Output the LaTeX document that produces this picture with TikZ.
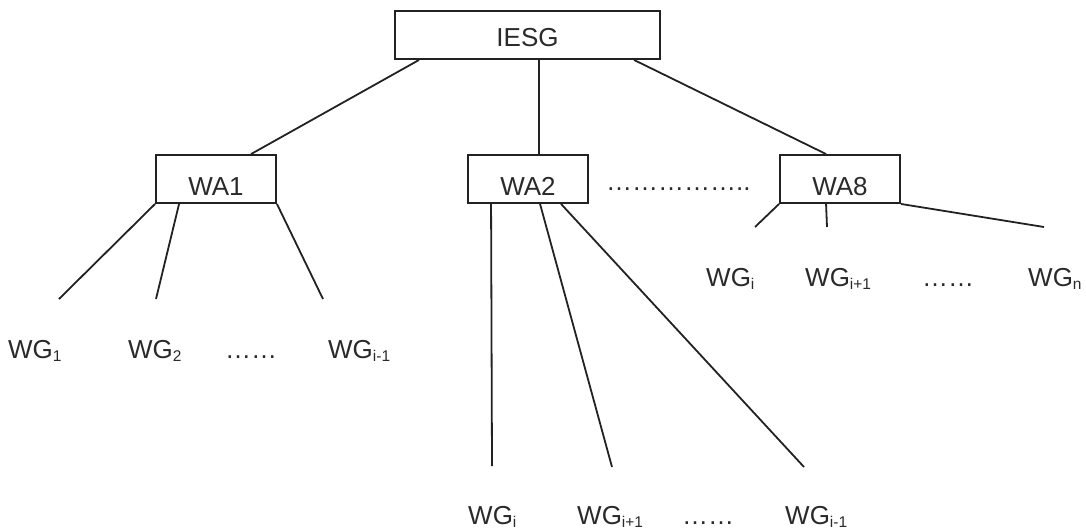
\documentclass[tikz,border=0pt]{standalone}
\usepackage{fontspec}
\setmainfont{Liberation Sans}
\newcommand\lo[1]{\raisebox{-3.5pt}{\fontsize{15.5}{16}\selectfont #1}}
\definecolor{ink}{HTML}{2A2A2A}
\definecolor{wire}{HTML}{222222}
\begin{document}
\begin{tikzpicture}[x=1pt,y=-1pt,
  every node/.style={text=ink,font=\fontsize{26}{30}\selectfont},
  areabox/.style={draw=wire,line width=1.9pt,inner sep=0pt,minimum height=48pt,
    text height=32pt,text depth=0pt},
  label/.style={anchor=base west,inner sep=0pt},
  wire/.style={draw=wire,line width=1.8pt}]
\useasboundingbox (0,0) rectangle (1086,531);

% top level and areas
\node[areabox,minimum width=265pt,text height=22pt] (iesg) at (527.5,35) {IESG};
\node[areabox,minimum width=120pt] (wa1) at (216,179) {WA1};
\node[areabox,minimum width=120pt] (wa2) at (528,179) {WA2};
\node[areabox,minimum width=120pt] (wa8) at (840,179) {WA8};
\node[label] (gap) at (606,190) {……………..};

% working groups
\node[label] (g11) at (8,358) {WG\lo{1}};
\node[label] (g12) at (128,358) {WG\lo{2}};
\node[label] (g1d) at (225,358) {……};
\node[label] (g1n) at (328,358) {WG\lo{i-1}};

\node[label] (g21) at (468,524) {WG\lo{i}};
\node[label] (g22) at (577,524) {WG\lo{i+1}};
\node[label] (g2d) at (682,524) {……};
\node[label] (g2n) at (785,524) {WG\lo{i-1}};

\node[label] (g31) at (706,286) {WG\lo{i}};
\node[label] (g32) at (805,286) {WG\lo{i+1}};
\node[label] (g3d) at (922,286) {……};
\node[label] (g3n) at (1028,286) {WG\lo{n}};

% free ends of the branches
\coordinate (e11) at (59,299);
\coordinate (e12) at (156,299);
\coordinate (e13) at (323,299);
\coordinate (e21) at (492,466);
\coordinate (e22) at (612,467);
\coordinate (e23) at (804,467);
\coordinate (e31) at (755,227);
\coordinate (e32) at (827,227);
\coordinate (e33) at (1044,227);

% IESG to areas
\draw[wire] ([xshift=25pt]iesg.south west) -- ([xshift=96pt]wa1.north west);
\draw[wire] ([xshift=145pt]iesg.south west) -- ([xshift=72pt]wa2.north west);
\draw[wire] ([xshift=240pt]iesg.south west) -- ([xshift=47pt]wa8.north west);

% areas to working groups
\draw[wire] (wa1.south west) -- (e11);
\draw[wire] ([xshift=24pt]wa1.south west) -- (e12);
\draw[wire] (wa1.south east) -- (e13);

\draw[wire] ([xshift=24pt]wa2.south west) -- (e21);
\draw[wire] ([xshift=73pt]wa2.south west) -- (e22);
\draw[wire] ([xshift=94pt]wa2.south west) -- (e23);

\draw[wire] (wa8.south west) -- (e31);
\draw[wire] ([xshift=47pt]wa8.south west) -- (e32);
\draw[wire] (wa8.south east) -- (e33);
\end{tikzpicture}
\end{document}
